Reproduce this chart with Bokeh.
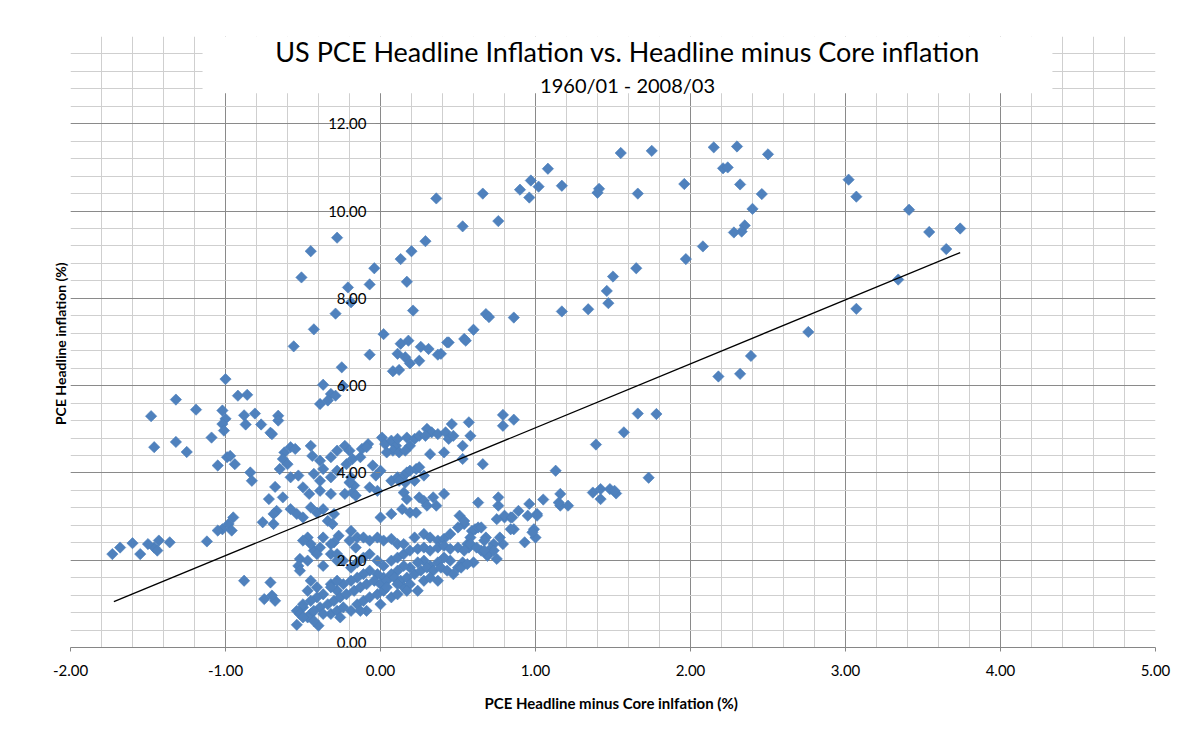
import numpy as np
from bokeh.plotting import figure
from bokeh.models import (Range1d, SingleIntervalTicker, FixedTicker, NumeralTickFormatter,
                          LinearAxis, Label, BoxAnnotation, ColumnDataSource)
from bokeh.embed import file_html
from bokeh.resources import INLINE

FONT = "Lato"

# ---------------- data ----------------
upper_band = [(1.55,11.33),(1.75,11.38),(2.15,11.46),(2.30,11.48),(2.50,11.30),(1.08,10.97),(2.21,10.98),
 (2.24,11.00),(0.97,10.70),(1.02,10.56),(1.17,10.58),(0.90,10.49),(0.96,10.31),(0.66,10.40),(1.41,10.51),
 (1.40,10.42),(1.66,10.40),(1.96,10.62),(2.32,10.61),(2.46,10.39),(2.40,10.05),(2.35,9.67),(2.33,9.53),
 (2.28,9.51),(0.53,9.65),(0.76,9.77),(2.08,9.19),(1.97,8.90),(1.65,8.69),(1.50,8.50),(1.46,8.17),(1.47,7.89),
 (1.34,7.75),(1.17,7.70),(0.86,7.56),(0.68,7.64),(0.70,7.57),(0.60,7.28),(0.54,7.07),(0.55,7.03),(0.44,6.99),
 (0.39,6.73),(2.76,7.23),(2.39,6.68),(2.32,6.27),(2.18,6.21),(3.02,10.72),(3.07,10.33),(3.41,10.03),
 (3.54,9.52),(3.74,9.60),(3.65,9.13),(3.34,8.43),(3.07,7.76),(0.36,10.29)]

upper_left = [(-0.28,9.39),(-0.45,9.08),(-0.51,8.48),(-0.21,8.25),(-0.19,7.91),(-0.29,7.65),(-0.43,7.29),
 (-0.56,6.90),(-0.25,6.42),(-0.37,6.02),(-0.24,5.99),(0.29,9.31),(0.20,9.08),(0.13,8.90),(-0.04,8.69),
 (-0.07,8.32),(0.17,8.38),(0.21,7.72),(0.02,7.18),(-0.07,6.71),(0.13,6.96),(0.18,7.03),(0.26,6.89),
 (0.31,6.84),(0.37,6.71),(0.43,6.99),(0.11,6.73),(0.16,6.65),(0.19,6.51),(0.25,6.57),(0.08,6.33),
 (0.12,6.36),(-1.00,6.15)]

right_mid = [(0.79,5.33),(0.86,5.22),(0.79,5.08),(0.57,5.16),(0.58,4.85),(0.53,4.62),(0.53,4.32),(0.66,4.20),
 (1.66,5.36),(1.78,5.35),(1.57,4.93),(1.39,4.65),(1.13,4.05),(1.73,3.89),(1.37,3.55),(1.42,3.63),(1.42,3.40),
 (1.48,3.63),(1.52,3.53),(1.51,3.59),(1.05,3.39),(1.16,3.52),(1.16,3.25),(1.21,3.25),(1.15,3.32),(0.96,3.29),
 (1.01,3.06),(0.99,2.71),(1.00,2.52),(0.93,2.41),(0.89,3.13),(0.84,2.98),(0.86,2.71),(0.80,2.98),(0.75,2.94),
 (0.76,3.25),(0.76,3.44),(0.63,3.32),(0.54,2.83),(0.61,2.71),(0.68,2.52),(0.73,2.37),(0.75,2.03),(0.69,2.10),
 (0.60,1.95),(0.65,2.22),(0.57,2.29),(0.53,1.95),(0.71,2.26),(0.79,2.37),(0.80,3.02),(0.85,2.98),(0.84,2.71),
 (0.59,2.67),(0.63,2.75),(0.67,2.45),(0.56,2.37),(0.69,2.14),(0.73,2.22),(0.77,2.52),(0.98,2.64),(0.95,3.02),
 (1.01,3.02)]

left_group = [(-1.32,5.68),(-1.48,5.30),(-1.19,5.45),(-1.02,5.43),(-0.92,5.77),(-0.86,5.79),(-0.88,5.32),
 (-0.81,5.36),(-0.87,5.11),(-0.77,5.11),(-0.71,4.92),(-0.66,5.31),(-0.66,5.20),(-1.00,5.24),(-1.02,5.12),
 (-1.01,4.97),(-1.09,4.81),(-1.46,4.59),(-1.32,4.71),(-1.25,4.48),(-1.05,4.17),(-0.99,4.36),(-0.97,4.39),
 (-0.94,4.20),(-0.84,4.01),(-0.83,3.82),(-0.95,2.98),(-0.98,2.83),(-1.02,2.71),(-1.05,2.68),(-0.96,2.68),
 (-1.12,2.43),(-1.36,2.41),(-1.43,2.45),(-1.46,2.29),(-1.50,2.37),(-1.44,2.22),(-1.55,2.14),(-1.60,2.39),
 (-1.68,2.29),(-1.73,2.14),(-0.88,1.53),(-0.71,1.49),(-0.75,1.11),(-0.68,1.07),(-0.70,1.19),(-0.70,4.89)]

core_upper = [(-0.58,4.59),(-0.62,4.47),(-0.55,4.55),(-0.63,4.32),(-0.60,4.20),(-0.65,4.09),(-0.58,3.90),
 (-0.53,3.94),(-0.45,4.62),(-0.44,4.39),(-0.39,4.28),(-0.32,4.36),(-0.28,4.51),(-0.37,4.09),(-0.43,3.98),
 (-0.39,3.82),(-0.32,3.90),(-0.28,4.05),(-0.68,3.68),(-0.63,3.44),(-0.72,3.40),(-0.50,3.67),(-0.46,3.52),
 (-0.39,3.59),(-0.32,3.52),(-0.58,3.17),(-0.67,3.13),(-0.69,3.06),(-0.76,2.87),(-0.69,2.83),(-0.54,3.06),
 (-0.50,2.98),(-0.45,3.21),(-0.41,3.09),(-0.37,3.17),(-0.30,3.06),(-0.32,5.81),(-0.39,5.58),(-0.34,5.66),
 (-0.29,5.77),(-0.23,4.62),(-0.20,4.51),(-0.18,4.32),(-0.22,4.20),(-0.13,4.36),(-0.12,4.55),(-0.08,4.66),
 (-0.09,4.59),(-0.05,4.17),(0.00,4.05),(-0.03,3.94),(0.01,4.81),(0.03,4.66),(0.07,4.74),(0.10,4.62),
 (0.08,4.51),(0.11,4.78),(0.12,4.47),(0.04,4.47),(0.17,4.81),(0.19,4.62),(0.16,4.51),(0.22,4.78),(0.25,4.85),
 (0.30,5.01),(0.33,4.93),(0.37,4.89),(0.29,4.85),(0.42,4.93),(0.46,5.12),(0.44,4.78),(0.47,4.85),(0.41,4.47),
 (0.32,4.43),(0.07,3.82),(0.11,3.90),(0.15,3.94),(0.17,4.01),(0.19,4.05),(0.23,4.09),(0.25,4.13),(0.28,3.94),
 (0.22,3.82),(0.16,3.78),(0.12,3.82),(-0.07,3.67),(-0.02,3.59),(-0.19,3.90),(-0.17,3.71),(-0.18,3.55),
 (-0.16,3.48),(-0.23,3.52),(-0.20,3.78),(0.15,3.55),(0.17,3.40),(0.14,3.17),(0.19,3.09),(0.23,3.09),
 (0.25,3.44),(0.28,3.36),(0.30,3.25),(0.34,3.44),(0.36,3.25),(0.41,3.52),(0.00,2.98),(0.07,3.06),(-0.34,2.90),
 (-0.31,2.83),(-0.27,2.56),(-0.30,2.41),(-0.43,2.22),(-0.52,2.03),(0.51,3.02),(0.54,2.90)]

core_lower = [(-0.47,2.52),(-0.45,2.37),(-0.50,2.45),(-0.37,2.52),(-0.39,2.29),(-0.32,2.37),(-0.41,2.14),
 (-0.32,2.14),(-0.47,1.99),(-0.53,1.87),(-0.52,1.76),(-0.37,1.87),(-0.28,1.99),(-0.45,1.53),(-0.47,1.30),
 (-0.41,1.38),(-0.37,1.22),(-0.32,1.45),(-0.28,1.30),(-0.50,0.92),(-0.45,0.77),(-0.54,0.84),(-0.39,0.92),
 (-0.47,0.69),(-0.52,0.77),(-0.54,0.52),(-0.40,0.50),(-0.19,2.67),(-0.15,2.52),(-0.20,2.45),(-0.16,2.29),
 (-0.11,2.52),(-0.07,2.45),(-0.02,2.52),(0.02,2.45),(0.07,2.49),(0.11,2.37),(0.15,2.37),(0.22,2.52),
 (0.28,2.60),(0.32,2.52),(0.37,2.45),(0.41,2.49),(0.45,2.60),(0.50,2.75),(0.65,2.75),(0.58,2.52),
 (-0.28,2.14),(-0.24,1.99),(-0.19,1.83),(-0.15,1.95),(-0.11,2.06),(-0.07,2.14),(-0.02,1.99),(0.02,1.87),
 (0.07,1.99),(0.11,2.06),(0.15,2.14),(0.19,2.22),(0.24,2.26),(0.28,2.29),(0.32,2.22),(0.37,2.29),(0.41,2.33),
 (0.45,2.26),(0.50,2.29),(0.54,2.22),(0.58,2.37),(0.62,2.29),(0.67,2.22),(0.50,1.83),(0.45,1.99),(0.41,2.06),
 (0.37,1.95),(0.32,1.87),(0.28,1.99),(0.24,1.95),(0.19,1.83),(0.15,1.87),(0.11,1.76),(0.07,1.68),(0.02,1.60),
 (-0.02,1.68),(-0.07,1.76),(-0.11,1.68),(-0.15,1.60),(-0.19,1.53),(-0.24,1.45),(-0.28,1.53),(-0.32,1.38),
 (-0.41,1.15),(-0.45,1.07),(-0.50,0.99),(-0.43,0.84),(-0.34,0.99),(-0.30,1.07),(-0.26,1.15),(-0.22,1.22),
 (-0.17,1.30),(-0.13,1.38),(-0.09,1.45),(-0.04,1.53),(0.00,1.45),(0.04,1.53),(0.09,1.60),(0.13,1.53),
 (0.17,1.60),(0.22,1.68),(0.26,1.76),(0.30,1.83),(0.34,1.76),(0.39,1.83),(0.43,1.76),(0.47,1.68),(0.52,1.83),
 (0.56,1.91),(-0.32,0.77),(-0.28,0.84),(-0.24,0.92),(-0.19,0.84),(-0.15,0.99),(-0.11,1.07),(-0.07,1.15),
 (-0.02,1.22),(0.02,1.30),(0.07,1.15),(0.11,1.22),(0.15,1.38),(0.19,1.45),(0.24,1.30),(0.28,1.53),(0.32,1.60),
 (0.37,1.53),(0.00,0.99),(-0.09,0.84),(-0.26,0.69),(-0.50,0.69),(-0.43,0.61),(-0.37,0.77),(-0.13,0.84),
 (0.04,1.38),(0.11,1.45),(0.17,1.30)]

# linear trend line as drawn in the reference (end points)
trend_x = [-1.72, 3.74]
trend_y = [1.05, 9.05]

x_ticks = [-2, -1, 0, 1, 2, 3, 4, 5]
y_ticks = [2, 4, 6, 8, 10, 12]      # 0.00 is written separately so it is not clipped
y_zero_label = "0.00"

title_text = "US PCE Headline Inflation vs. Headline minus Core inflation"
subtitle_text = "1960/01 - 2008/03"
x_title = "PCE Headline minus Core inlfation  (%)"
y_title = "PCE Headline inflation  (%)"

# ---------------- figure ----------------
all_pts = upper_band + upper_left + right_mid + left_group + core_upper + core_lower
src = ColumnDataSource(dict(x=[p_[0] for p_ in all_pts], y=[p_[1] for p_ in all_pts]))

p = figure(frame_width=1085, frame_height=611, x_range=Range1d(-2, 5), y_range=Range1d(0, 14),
           output_backend="svg", toolbar_location=None,
           min_border_left=70, min_border_right=43, min_border_top=36, min_border_bottom=80)
p.outline_line_color = None
p.background_fill_color = "white"
p.border_fill_color = "white"

GRID_MAJOR = "#8a8a8a"
GRID_MINOR = "#cfcfcf"
AXIS_COL = "#868686"
TICK_PX = "15px"

# x axis
xa = p.xaxis[0]
xa.ticker = FixedTicker(ticks=x_ticks)
xa.formatter = NumeralTickFormatter(format="0.00")
xa.axis_line_color = AXIS_COL
xa.major_tick_line_color = AXIS_COL
xa.major_tick_out = 4
xa.major_tick_in = 0
xa.minor_tick_line_color = None
xa.major_label_text_font = FONT
xa.major_label_text_font_size = TICK_PX
xa.major_label_text_color = "black"
xa.major_label_standoff = 13
xa.axis_label = x_title
xa.axis_label_text_font = FONT
xa.axis_label_text_font_size = "15px"
xa.axis_label_text_font_style = "bold"
xa.axis_label_text_color = "black"
xa.axis_label_standoff = 15

# y axis crossing at x = 0
ya = p.yaxis[0]
ya.fixed_location = 0
ya.ticker = FixedTicker(ticks=y_ticks)
ya.formatter = NumeralTickFormatter(format="0.00")
ya.axis_line_color = None
ya.major_tick_line_color = AXIS_COL
ya.major_tick_out = 5
ya.major_tick_in = 0
ya.minor_tick_line_color = None
ya.major_label_text_font = FONT
ya.major_label_text_font_size = TICK_PX
ya.major_label_text_color = "black"
ya.major_label_standoff = 9

# y title on the far left
ta = LinearAxis(ticker=FixedTicker(ticks=[]), axis_label=y_title,
                axis_line_color=None, major_tick_line_color=None, minor_tick_line_color=None,
                major_tick_out=0, major_tick_in=0, major_label_standoff=0,
                major_label_text_font_size="0px", axis_label_standoff=2,
                axis_label_text_font=FONT, axis_label_text_font_size="14px",
                axis_label_text_font_style="bold", axis_label_text_color="black")
p.add_layout(ta, "left")

# grids
p.xgrid[0].ticker = SingleIntervalTicker(interval=1, num_minor_ticks=5)
p.ygrid[0].ticker = SingleIntervalTicker(interval=2, num_minor_ticks=5)
for g in (p.xgrid[0], p.ygrid[0]):
    g.grid_line_color = GRID_MAJOR
    g.grid_line_width = 1
    g.minor_grid_line_color = GRID_MINOR
    g.minor_grid_line_width = 1

# data
p.scatter("x", "y", source=src, marker="square", angle=np.pi / 4, size=8,
          fill_color="#4F81BD", line_color="#4A7EBB", line_width=0.6)
p.line(trend_x, trend_y, line_color="black", line_width=1.3)

# "0.00" label of the y axis, sitting on the x axis line
p.add_layout(Label(x=0, y=0, text=y_zero_label, text_align="right", text_baseline="bottom",
                   x_offset=-14, y_offset=0, text_font=FONT, text_font_size=TICK_PX,
                   text_color="black"))

# title box (covers the grid as in the reference)
p.add_layout(BoxAnnotation(left=-1.148, right=4.335, bottom=12.7, top=14,
                           fill_color="white", fill_alpha=1.0, line_color=None))
p.add_layout(Label(x=1.594, y=13.66, text=title_text, text_align="center", text_baseline="middle",
                   text_font=FONT, text_font_size="27px", text_color="black"))
p.add_layout(Label(x=1.594, y=12.88, text=subtitle_text, text_align="center", text_baseline="middle",
                   text_font=FONT, text_font_size="20px", text_color="black"))

open("out.html", "w").write(file_html(p, INLINE))
